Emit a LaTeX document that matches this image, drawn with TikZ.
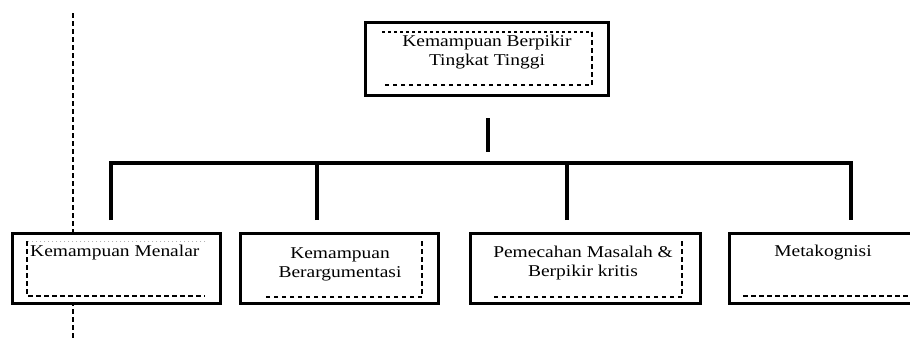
\documentclass[tikz,border=0pt]{standalone}
\usepackage{fontspec}
\setmainfont{Liberation Serif}[FakeStretch=1.18]
\usetikzlibrary{calc}
\begin{document}
\begin{tikzpicture}[x=1pt,y=-1pt,
  box/.style={draw, line width=3pt, fill=white, inner sep=0pt, outer sep=0pt, minimum height=70pt},
  conn/.style={line width=3.2pt},
  innerframe/.style={line width=1.4pt, dash pattern=on 4.5pt off 3.5pt},
  lbl/.style={font=\fontsize{16.5}{19}\selectfont, align=center, inner sep=0pt, text=black}]
\useasboundingbox (0,0) rectangle (910,338);
\fill[white] (0,0) rectangle (910,338);
% guide line
\coordinate (gtop) at (73,13);
\coordinate (gbot) at (73,338);
\draw[innerframe] (gtop) -- (gbot);
% boxes
\node[box, minimum width=243pt, minimum height=73pt] (top) at (486.5,58.5) {};
\node[box, minimum width=208pt] (b1) at (116,268) {};
\node[box, minimum width=198pt] (b2) at (339,268) {};
\node[box, minimum width=230pt] (b3) at (585,268) {};
\node[box, minimum width=206pt] (b4) at (832,268) {};
% inner dashed frames
\draw[innerframe, dash pattern=on 3pt off 3pt] ([shift={(17,10)}]top.north west) -- ([shift={(-16,10)}]top.north east);
\draw[innerframe] ([shift={(-16,10)}]top.north east)
  -- ([shift={(-16,-10)}]top.south east) -- ([shift={(17,-10)}]top.south west);
\draw[line width=0.8pt, black!30, dash pattern=on 1.5pt off 2.5pt] ([shift={(-15,8)}]b1.north east) -- ([shift={(15,8)}]b1.north west);
\draw[innerframe] ([shift={(15,8)}]b1.north west) -- ([shift={(15,-7)}]b1.south west) -- ([shift={(-15,-7)}]b1.south east);
\draw[innerframe] ([shift={(-16,8)}]b2.north east) -- ([shift={(-16,-6)}]b2.south east) -- ([shift={(22,-6)}]b2.south west);
\draw[innerframe] ([shift={(-18,8)}]b3.north east) -- ([shift={(-18,-6)}]b3.south east) -- ([shift={(20,-6)}]b3.south west);
\draw[innerframe] ([shift={(14,-7)}]b4.south west) -- ([shift={(180,-7)}]b4.south west);
% labels
\node[lbl] (ttop) at (487,52.5) {Kemampuan Berpikir\\Tingkat Tinggi};
\node[lbl, anchor=west] (t1) at (30,253) {Kemampuan Menalar};
\node[lbl] (t2) at (340,264) {Kemampuan\\Berargumentasi};
\node[lbl] (t3) at (583,263.5) {Pemecahan Masalah \&\\Berpikir kritis};
\node[lbl] (t4) at (823,253) {Metakognisi};
% connectors
\coordinate (s1) at ($(top.south)+(1.5,23)$);
\coordinate (s2) at ($(top.south)+(1.5,57)$);
\draw[conn] (s1) -- (s2);
\coordinate (d1) at (111,220);
\coordinate (d2) at (317,220);
\coordinate (d3) at (567,220);
\coordinate (d4) at (851,220);
\coordinate (h) at (0,163);
\draw[conn] (d1) |- (h -| d4) -- (d4);
\draw[conn] (d2) -- (h -| d2);
\draw[conn] (d3) -- (h -| d3);
\end{tikzpicture}
\end{document}
